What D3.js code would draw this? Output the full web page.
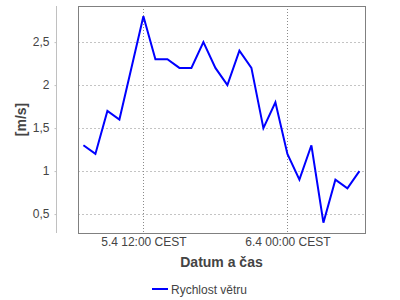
<!DOCTYPE html>
<html>
<head>
<meta charset="utf-8">
<script src="https://cdn.jsdelivr.net/npm/d3@7"></script>
<style>
  body { margin: 0; background: #fff; }
  svg { display: block; font-family: "Liberation Sans", Arial, sans-serif; }
</style>
</head>
<body>
<svg id="chart" width="400" height="300"></svg>
<script>
// Wind speed over time (hourly, 5.4 07:00 -> 6.4 06:00)
const startHour = new Date(2015, 3, 5, 7, 0);
const speeds = [1.3, 1.2, 1.7, 1.6, 2.2, 2.8, 2.3, 2.3, 2.2, 2.2, 2.5, 2.2,
                2.0, 2.4, 2.2, 1.5, 1.8, 1.2, 0.9, 1.3, 0.4, 0.9, 0.8, 1.0];
const yTicks = [0.5, 1, 1.5, 2, 2.5];
const xTickDates = [new Date(2015, 3, 5, 12, 0), new Date(2015, 3, 6, 0, 0)];
const seriesName = 'Rychlost větru';
const xTitle = 'Datum a čas';
const yTitle = '[m/s]';

const data = speeds.map((v, i) => ({ t: d3.timeHour.offset(startHour, i), v: v }));

const svg = d3.select('#chart');
const plot = { left: 78, right: 365, top: 6, bottom: 233 };

const x = d3.scaleTime()
    .domain([d3.timeMinute.offset(data[0].t, -27), d3.timeMinute.offset(data[data.length - 1].t, 28)])
    .range([plot.left, plot.right]);
const y = d3.scaleLinear()
    .domain([0.28, 2.92])
    .range([plot.bottom, plot.top]);

const fmtX = d => `${d.getDate()}.${d.getMonth() + 1} ${d3.timeFormat('%H:%M')(d)} CEST`;
const fmtY = d => String(d).replace('.', ',');

// horizontal grid
svg.append('g')
    .selectAll('line')
    .data(yTicks)
    .join('line')
    .attr('x1', plot.left).attr('x2', plot.right)
    .attr('y1', d => Math.round(y(d)) + 0.5).attr('y2', d => Math.round(y(d)) + 0.5)
    .attr('stroke', '#c4c4c4')
    .attr('stroke-dasharray', '2,2');

// vertical grid
svg.append('g')
    .selectAll('line')
    .data(xTickDates)
    .join('line')
    .attr('x1', d => Math.round(x(d)) + 0.5).attr('x2', d => Math.round(x(d)) + 0.5)
    .attr('y1', plot.top).attr('y2', plot.bottom)
    .attr('stroke', '#8a8a8a')
    .attr('stroke-dasharray', '1,2');

// plot border
svg.append('rect')
    .attr('x', plot.left + 0.5).attr('y', plot.top + 0.5)
    .attr('width', plot.right - plot.left).attr('height', plot.bottom - plot.top)
    .attr('fill', 'none')
    .attr('stroke', '#808080');

// y axis (detached)
const yAxis = svg.append('g')
    .attr('transform', 'translate(56.5,0)')
    .call(d3.axisLeft(y).tickValues(yTicks).tickFormat(fmtY).tickSize(2).tickPadding(5));
yAxis.select('.domain').attr('d', `M0,${plot.top}V${plot.bottom}`).attr('stroke', '#c0c0c0');
yAxis.selectAll('.tick line').attr('stroke', '#c0c0c0');
yAxis.selectAll('text').attr('font-size', 12).attr('fill', '#444').attr('font-family', 'Liberation Sans, Arial, sans-serif');

// x axis labels
const xAxis = svg.append('g')
    .attr('transform', `translate(0,${plot.bottom})`)
    .call(d3.axisBottom(x).tickValues(xTickDates).tickFormat(fmtX).tickSize(0).tickPadding(4));
xAxis.select('.domain').remove();
xAxis.selectAll('text').attr('font-size', 12).attr('fill', '#444').attr('font-family', 'Liberation Sans, Arial, sans-serif');

// line
svg.append('path')
    .datum(data)
    .attr('fill', 'none')
    .attr('stroke', '#0000ff')
    .attr('stroke-width', 2)
    .attr('stroke-linejoin', 'miter')
    .attr('d', d3.line().x(d => x(d.t)).y(d => y(d.v)));

// axis titles
svg.append('text')
    .attr('x', (plot.left + plot.right) / 2).attr('y', 267)
    .attr('text-anchor', 'middle')
    .attr('font-size', 14).attr('font-weight', 'bold').attr('fill', '#444')
    .text(xTitle);

svg.append('text')
    .attr('transform', `translate(26,${(plot.top + plot.bottom) / 2}) rotate(-90)`)
    .attr('text-anchor', 'middle')
    .attr('font-size', 14).attr('font-weight', 'bold').attr('fill', '#444')
    .text(yTitle);

// legend
const legend = svg.append('g').attr('transform', 'translate(152,289)');
legend.append('line')
    .attr('x1', 0).attr('x2', 16).attr('y1', 0).attr('y2', 0)
    .attr('stroke', '#0000ff').attr('stroke-width', 2);
legend.append('text')
    .attr('x', 19).attr('y', 4.5)
    .attr('font-size', 12).attr('fill', '#444')
    .text(seriesName);
</script>
</body>
</html>
